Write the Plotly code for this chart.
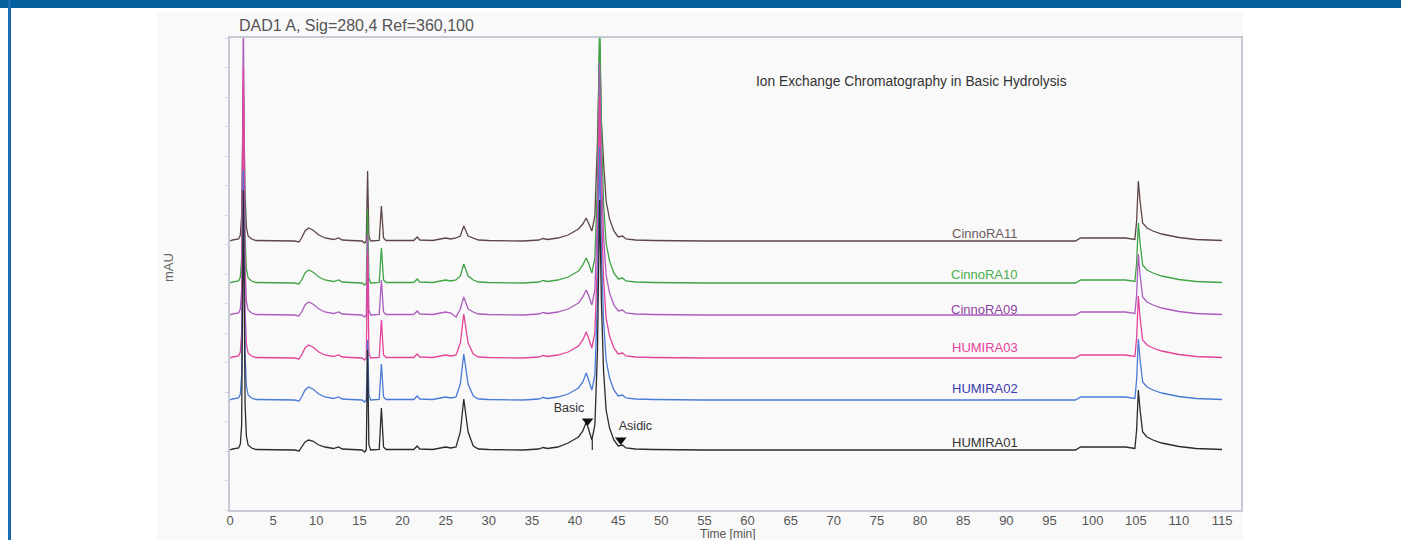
import plotly.graph_objects as go

# ---------------- data ----------------
time_min = [0, 0.3, 1.0, 1.2, 1.35, 1.55, 1.75, 1.9, 2.1, 2.5, 3.0,
            7.5, 8.0, 8.3, 8.7, 9.1, 9.6, 10.3, 11.0, 12.0, 12.6, 13.0, 14.0,
            15.3, 15.6, 15.8, 15.95, 16.1, 16.3,
            17.3, 17.55, 17.8, 18.1,
            20.0, 21.3, 21.7, 22.0, 23.5, 24.5, 25.0, 25.6, 26.2, 26.7, 27.1, 27.6, 28.2, 28.8, 30.0,
            34.0, 35.8, 36.3, 36.8, 38.0, 39.2, 39.8, 40.4, 40.9, 41.3, 41.6, 41.95,
            42.3, 42.6, 42.85, 43.05, 43.3, 43.6, 44.0, 44.5, 45.0, 45.5, 45.9, 47.0, 49.0, 55.0,
            98.0, 98.6, 103.8, 104.5, 104.9, 105.1, 105.3, 105.5, 105.8, 106.3, 107.0, 108.0,
            109.0, 110.0, 111.0, 112.0, 113.5, 115.0]

# signal above each trace's own baseline (mAU)
cinnora11 = [0, 1, 2, 6, 25, 155, 45, 14, 5, 2, 0.5,
             0, -1, 3, 10, 13, 11, 6, 3, 1.5, 3, 1, 0.5,
             0, -2, 0, 70, 5, 0,
             0.5, 35, 3, 0.5,
             0.5, 0.5, 4, 1, 0.5, 2, 3, 2, 3, 5, 15, 5, 3, 1, 0.5,
             0, 1, 2.5, 1.5, 3, 6, 9, 12, 17, 23, 17, 10,
             25, 100, 200, 120, 80, 40, 22, 10, 4, 5, 2, 1, 0.5, 0,
             0, 3, 3, 2, 1.5, 20, 60, 40, 18, 13, 10, 7,
             5, 3.5, 2.5, 1.5, 1, 0.5]
cinnora10 = [0, 1, 2, 6, 25, 150, 45, 14, 5, 2, 0.5,
             0, -1, 3, 10, 13, 11, 6, 3, 1.5, 3, 1, 0.5,
             0, -2, 0, 73, 5, 0,
             0.5, 35, 3, 0.5,
             0.5, 0.5, 4, 1, 0.5, 2, 3, 2, 3, 7, 19, 7, 3, 1, 0.5,
             0, 1, 2.5, 1.5, 3, 6, 9, 12, 18, 25, 19, 10,
             25, 100, 270, 160, 80, 40, 22, 10, 4, 5, 2, 1, 0.5, 0,
             0, 3, 3, 2, 1.5, 20, 60, 40, 18, 13, 10, 7,
             5, 3.5, 2.5, 1.5, 1, 0.5]
cinnora09 = [0, 1, 2, 6, 25, 300, 45, 14, 5, 2, 0.5,
             0, -1, 3, 10, 13, 11, 6, 3, 1.5, 3, 1, 0.5,
             0, -2, 0, 80, 5, 0,
             0.5, 35, 3, 0.5,
             0.5, 0.5, 4, 1, 0.5, 2, 3, 2, -2, 6, 18, 6, 3, 1, 0.5,
             0, 1, 2.5, 1.5, 3, 6, 9, 12, 18, 25, 19, 10,
             25, 100, 252, 150, 80, 40, 22, 10, 4, 5, 2, 1, 0.5, 0,
             0, 3, 3, 2, 1.5, 20, 61, 40, 18, 13, 10, 7,
             5, 3.5, 2.5, 1.5, 1, 0.5]
humira03 = [0, 1, 2, 6, 25, 290, 45, 14, 5, 2, 0.5,
            0, -1, 3, 10, 13, 11, 6, 3, 1.5, 3, 1, 0.5,
            0, -2, 0, 105, 5, 0,
            0.5, 38, 3, 0.5,
            0.5, 0.5, 4, 1, 0.5, 2, 3, 2, 3, 15, 44, 15, 4, 1, 0.5,
            0, 1, 2.5, 1.5, 3, 6, 9, 12, 18, 26, 19, 10,
            25, 100, 261, 155, 80, 40, 22, 10, 4, 5, 2, 1, 0.5, 0,
            0, 3, 3, 2, 1.5, 20, 62, 40, 18, 13, 10, 7,
            5, 3.5, 2.5, 1.5, 1, 0.5]
humira02 = [0, 1, 2, 6, 25, 230, 45, 14, 5, 2, 0.5,
            0, -1, 3, 10, 13, 11, 6, 3, 1.5, 3, 1, 0.5,
            0, -2, 0, 60, 5, 0,
            0.5, 36, 3, 0.5,
            0.5, 0.5, 4, 1, 0.5, 2, 3, 2, 3, 16, 46, 16, 4, 1, 0.5,
            0, 1, 2.5, 1.5, 3, 6, 9, 12, 18, 27, 19, 10,
            25, 100, 253, 150, 80, 40, 22, 10, 4, 5, 2, 1, 0.5, 0,
            0, 3, 3, 2, 1.5, 20, 61, 40, 18, 13, 10, 7,
            5, 3.5, 2.5, 1.5, 1, 0.5]
humira01 = [0, 1, 2, 6, 25, 260, 45, 14, 5, 2, 0.5,
            0, -1, 3, 8, 10, 9, 5, 3, 1.5, 3, 1, 0.5,
            0, -2, 0, 100, 5, 0,
            0.5, 42, 3, 0.5,
            0.5, 0.5, 4, 1, 0.5, 2, 3, 2, 3, 18, 51, 18, 4, 1, 0.5,
            0, 1, 2.5, 1.5, 3, 7, 10, 13, 19, 28, 20, 10,
            25, 100, 250, 150, 80, 40, 22, 10, 4, 5, 2, 1, 0.5, 0,
            0, 3, 3, 2, 1.5, 20, 60, 40, 18, 13, 10, 7,
            5, 3.5, 2.5, 1.5, 1, 0.5]

sample_names = ["CinnoRA11", "CinnoRA10", "CinnoRA09", "HUMIRA03", "HUMIRA02", "HUMIRA01"]
sample_signals = [cinnora11, cinnora10, cinnora09, humira03, humira02, humira01]
display_offsets = [269, 227, 195, 152, 110, 60]   # vertical stacking of traces (mAU)

# integration drop line between Basic and main peak (HUMIRA01)
drop_line_time = [42.0, 42.0]
drop_line_signal = [0, 10]

# peak marks on HUMIRA01 (triangles) and their labels
mark_labels = ["Basic", "Asidic"]
mark_times = [41.45, 45.3]
mark_signals = [29, 10]
mark_label_times = [39.3, 47.0]
mark_label_signals = [41, 23]

x_ticks = list(range(0, 120, 5))

# ---------------- styles ----------------
line_colors = ["#5e4646", "#3fa444", "#ac5cbc", "#e2449a", "#4a7bd6", "#2b2b2b"]
label_colors = ["#6b5a5a", "#4cae4c", "#8e44a0", "#e8409a", "#3b3bab", "#333333"]
label_shift = [-2, -1, -4, 1, 2, -2]
FONT = "Liberation Sans, Arial, sans-serif"

fig = go.Figure()
for name, sig, off, col in zip(sample_names, sample_signals, display_offsets, line_colors):
    fig.add_trace(go.Scatter(
        x=time_min, y=[v + off for v in sig], mode="lines", name=name,
        line=dict(color=col, width=1.3), showlegend=False, hoverinfo="skip"))

black_off = display_offsets[-1]
fig.add_trace(go.Scatter(
    x=drop_line_time, y=[v + black_off for v in drop_line_signal], mode="lines",
    line=dict(color="#2b2b2b", width=1.2), showlegend=False, hoverinfo="skip"))

fig.add_trace(go.Scatter(
    x=mark_times, y=[v + black_off for v in mark_signals], mode="markers",
    marker=dict(symbol="triangle-down", size=10, color="#111111"),
    showlegend=False, hoverinfo="skip", cliponaxis=False))
fig.add_trace(go.Scatter(
    x=mark_label_times, y=[v + black_off for v in mark_label_signals], mode="text",
    text=mark_labels, textposition="middle center",
    textfont=dict(family=FONT, size=12.5, color="#333333"),
    showlegend=False, hoverinfo="skip", cliponaxis=False))

for name, off, col, sh in zip(sample_names, display_offsets, label_colors, label_shift):
    fig.add_annotation(x=87.5, y=off, xref="x", yref="y", text=name, showarrow=False,
                       xanchor="center", yanchor="bottom", yshift=sh,
                       font=dict(family=FONT, size=13, color=col))

# panel & frame decorations
fig.add_shape(type="rect", xref="paper", yref="paper", x0=-0.0722, x1=1.002, y0=-0.07, y1=1.0551,
              fillcolor="#f9f9f9", line=dict(width=0), layer="below")
fig.add_shape(type="rect", xref="paper", yref="paper", x0=-0.25, x1=1.2, y0=1.0636, y1=1.09,
              fillcolor="#07609e", line=dict(width=0), layer="above")
fig.add_shape(type="rect", xref="paper", yref="paper", x0=-0.2196, x1=-0.2166, y0=-0.1, y1=1.09,
              fillcolor="#1a6cb0", line=dict(width=0), layer="above")

fig.add_annotation(xref="paper", yref="paper", x=0.0069, y=1.0275, text="DAD1 A, Sig=280,4 Ref=360,100",
                   showarrow=False, xanchor="left", yanchor="middle",
                   font=dict(family=FONT, size=16, color="#555555"))
fig.add_annotation(xref="paper", yref="paper", x=0.6736, y=0.9068,
                   text="Ion Exchange Chromatography in Basic Hydrolysis",
                   showarrow=False, xanchor="center", yanchor="middle",
                   font=dict(family=FONT, size=13.8, color="#333333"))
fig.add_annotation(xref="paper", yref="paper", x=0.4926, y=-0.0498, text="Time [min]",
                   showarrow=False, xanchor="center", yanchor="middle",
                   font=dict(family=FONT, size=12, color="#555555"))
fig.add_annotation(xref="paper", yref="paper", x=-0.0613, y=0.5127, text="mAU", textangle=-90,
                   showarrow=False, xanchor="center", yanchor="middle",
                   font=dict(family=FONT, size=13, color="#666666"))

fig.update_layout(
    width=1401, height=540,
    margin=dict(l=230, r=160, t=38, b=30, pad=0, autoexpand=False),
    paper_bgcolor="white", plot_bgcolor="rgba(0,0,0,0)",
    font=dict(family=FONT),
    xaxis=dict(range=[0, 117.2], tickvals=x_ticks, ticktext=[str(v) for v in x_ticks],
               automargin=False,
               showgrid=False, zeroline=False, showline=True, mirror=True,
               linecolor="#c6cad6", linewidth=2, ticks="", ticklabelstandoff=-3,
               tickfont=dict(family=FONT, size=13, color="#555555")),
    yaxis=dict(range=[0, 472], dtick=29.5, showgrid=False, zeroline=False, showline=True,
               automargin=False,
               mirror=True, linecolor="#c6cad6", linewidth=2, ticks="outside", ticklen=3,
               tickcolor="#d6d9e2", showticklabels=False),
)

fig.write_html("out.html")
